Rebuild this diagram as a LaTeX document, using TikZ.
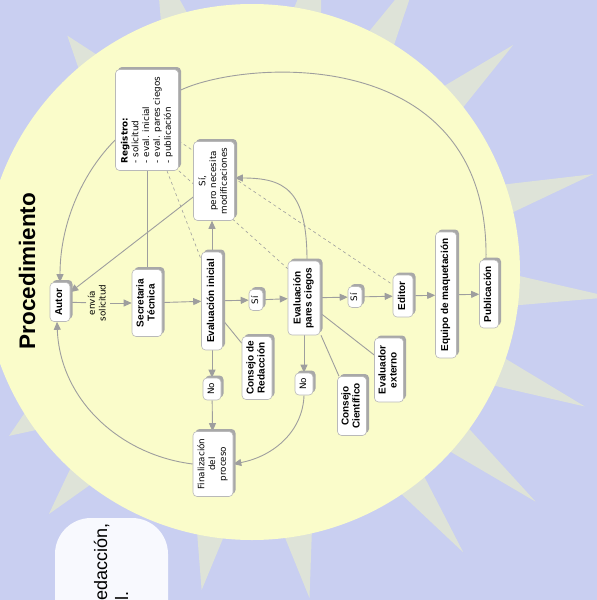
\documentclass[tikz,border=0pt]{standalone}
\usepackage{fontspec}
\setmainfont{DejaVu Sans}
\newfontfamily\lsans{Liberation Sans}
\usepackage{graphicx}
\usetikzlibrary{arrows.meta,shadows}
\definecolor{bgc}{RGB}{201,207,241}
\definecolor{sunc}{RGB}{250,252,202}
\definecolor{rayc}{RGB}{222,227,216}
\definecolor{panelc}{RGB}{248,249,254}
\definecolor{boxline}{RGB}{185,185,185}
\definecolor{shadowc}{RGB}{168,168,168}
\definecolor{linkc}{RGB}{158,158,158}
\pgfdeclarelayer{sunlayer}
\pgfdeclarelayer{linklayer}
\pgfsetlayers{sunlayer,linklayer,main}
\newcommand{\rt}[1]{\rotatebox{90}{\begin{tabular}{@{}c@{}}#1\end{tabular}}}
\newcommand{\rtl}[1]{\rotatebox{90}{\begin{tabular}{@{}l@{}}#1\end{tabular}}}
\newcommand{\bl}{\lsans\bfseries\fontsize{10}{11}\selectfont}
\newcommand{\rg}{\fontsize{8.8}{10.8}\selectfont}
\tikzset{
  cbox/.style={draw=boxline, fill=white, rounded corners=4pt, inner sep=0pt, line width=0.6pt,
    drop shadow={shadow xshift=2.5pt, shadow yshift=2.5pt, fill=shadowc, opacity=1}},
  lab/.style={inner sep=1pt},
  link/.style={draw=linkc, line width=0.9pt},
  arr/.style={link, -{Triangle[length=8pt,width=7pt]}},
  dlink/.style={draw=linkc, line width=0.6pt, dash pattern=on 3pt off 3pt},
}
\begin{document}
\begin{tikzpicture}[x=1pt,y=-1pt]
\useasboundingbox (0,0) rectangle (597,600);
\begin{pgfonlayer}{sunlayer}
  \clip (0,0) rectangle (597,600);
  \fill[bgc] (0,0) rectangle (597,600);
  \begin{scope}[shift={(252,272)}]
    \foreach \a/\r in {16/355pt,41/346pt,61/345pt,78/335pt,107/330pt,128/300pt,-4/360pt,-22/359pt,-39/365pt,-53/351pt,-80/331pt,-99/322pt,-130/316pt,-146/293pt}
      \fill[rayc] (\a-4:250pt) -- (\a:\r) -- (\a+4:250pt) -- cycle;
  \end{scope}
  \fill[sunc] (252,272) circle (268pt);
  \fill[panelc, rounded corners=36pt] (55,518) rectangle (168,680);
\end{pgfonlayer}

\node[rotate=90, anchor=base, inner sep=0pt, font=\lsans\bfseries\fontsize{22.5}{26}\selectfont] (title) at (35,271) {Procedimiento};
\node[rotate=90, anchor=base west, inner sep=0pt, font=\lsans\fontsize{18}{20}\selectfont] (pt1) at (107,601) {edacción,};
\node[rotate=90, anchor=base west, inner sep=0pt, font=\lsans\fontsize{18}{20}\selectfont] (pt2) at (128,601) {l.};

\node[cbox, minimum width=63pt, minimum height=101pt] (registro) at (147,120) {\rg\rtl{{\bfseries Registro:}\\- solicitud\\- eval. inicial\\- eval. pares ciegos\\- publicación}};
\node[cbox, minimum width=41pt, minimum height=79pt] (sipero) at (214,181) {\rg\rt{Sí,\\pero necesita\\modificaciones}};
\node[cbox, minimum width=20pt, minimum height=39pt] (autor) at (60,302) {\bl\rt{Autor}};
\node[lab] (envia) at (98,303) {\rg\rt{envía\\solicitud}};
\node[cbox, minimum width=30pt, minimum height=67pt] (secre) at (147,303) {\bl\rt{Secretaria\\Técnica}};
\node[cbox, minimum width=21pt, minimum height=98pt] (evini) at (212,301) {\bl\rt{Evaluación inicial}};
\node[cbox, minimum width=14pt, minimum height=21pt] (si1) at (256,300) {\rg\rt{Sí}};
\node[cbox, minimum width=32pt, minimum height=74pt] (evpar) at (304,298) {\bl\rt{Evaluación\\pares ciegos}};
\node[cbox, minimum width=14pt, minimum height=21pt] (si2) at (355,297) {\rg\rt{Sí}};
\node[cbox, minimum width=20pt, minimum height=42pt] (editor) at (403,296) {\bl\rt{Editor}};
\node[cbox, minimum width=21pt, minimum height=126pt] (equipo) at (446,295) {\bl\rt{Equipo de maquetación}};
\node[cbox, minimum width=19pt, minimum height=68pt] (publi) at (489,294) {\bl\rt{Publicación}};
\node[cbox, minimum width=30pt, minimum height=63pt] (consred) at (257,368) {\bl\rt{Consejo de\\Redacción}};
\node[cbox, minimum width=18pt, minimum height=22pt] (no1) at (212,389) {\rg\rt{No}};
\node[cbox, minimum width=40pt, minimum height=65pt] (final) at (213,464) {\rg\rt{Finalización\\del\\proceso}};
\node[cbox, minimum width=18pt, minimum height=22pt] (no2) at (304,384) {\rg\rt{No}};
\node[cbox, minimum width=29pt, minimum height=59pt] (conscien) at (352,406) {\bl\rt{Consejo\\Científico}};
\node[cbox, minimum width=29pt, minimum height=64pt] (evext) at (389,370) {\bl\rt{Evaluador\\externo}};

\begin{pgfonlayer}{linklayer}
  \draw[link] (registro) -- (secre);
  \draw[arr] ([yshift=-20pt]registro.west) .. controls (85,170) and (60,220) .. (autor.north);
  \draw[link] ([yshift=29pt]registro.east) .. controls (240,60) and (490,40) .. ([xshift=-3pt]publi.north);
  \draw[dlink] (registro.south east) -- ([yshift=-8pt]evpar.north west);
  \draw[dlink] ([xshift=20pt]registro.south) -- ([yshift=-8pt]evini.north west);
  \draw[dlink] ([yshift=-21pt]registro.east) -- ([yshift=-10pt]editor.north west);
  \draw[arr] ([yshift=-16pt]sipero.west) -- ([yshift=-10pt]autor.north east);
  \draw[link] (autor) -- (envia);
  \draw[arr] (envia) -- (secre);
  \draw[arr] (secre) -- (evini);
  \draw[arr] (evini) -- (si1);
  \draw[arr] (si1) -- (evpar);
  \draw[arr] (evpar) -- (si2);
  \draw[arr] (si2) -- (editor);
  \draw[arr] (editor) -- (equipo);
  \draw[arr] (equipo) -- (publi);
  \draw[arr] (evini.north) -- (evini.north |- sipero.south);
  \draw[arr] (evini) -- (no1);
  \draw[arr] (no1) -- (final);
  \draw[arr] (evpar) -- (no2);
  \draw[arr] (no2.south) .. controls (303,430) and (275,456) .. (final.east);
  \draw[arr] (final.west) .. controls (120,455) and (60,400) .. ([xshift=-3pt]autor.south);
  \draw[arr] ([xshift=3pt]evpar.north) .. controls (307,190) and (285,178) .. ([yshift=3pt]sipero.east);
  \draw[link] ([yshift=-19pt]evini.east) -- ([yshift=-7pt]consred.north west);
  \draw[link] ([xshift=17pt]evpar.south) -- ([xshift=-13pt]conscien.north);
  \draw[link] ([yshift=-15pt]evpar.east) -- ([yshift=15pt]evext.west);
\end{pgfonlayer}
\end{tikzpicture}
\end{document}
